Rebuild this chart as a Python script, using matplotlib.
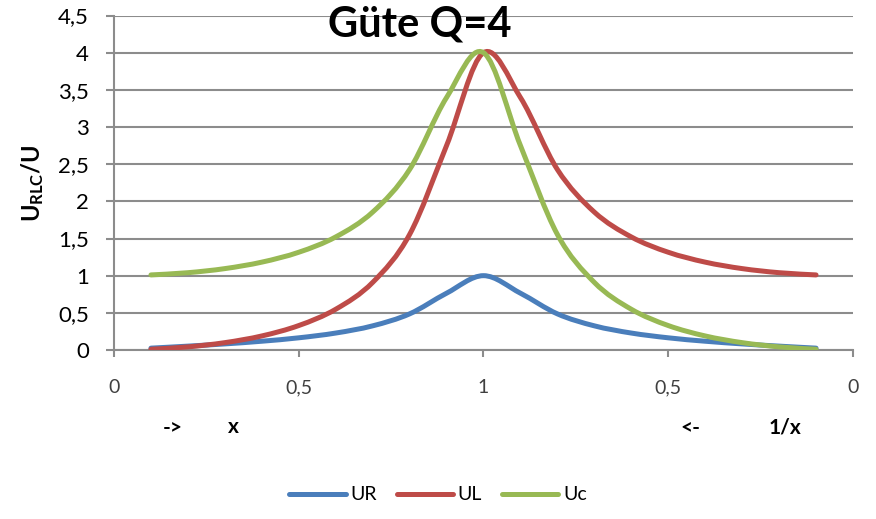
import numpy as np
import matplotlib
matplotlib.use("Agg")
import matplotlib.pyplot as plt
from matplotlib.path import Path
from matplotlib.patches import PathPatch
from matplotlib.lines import Line2D

plt.rcParams["font.family"] = ["Lato", "DejaVu Sans"]
plt.rcParams["mathtext.fontset"] = "custom"
plt.rcParams["mathtext.rm"] = "Lato"
plt.rcParams["mathtext.bf"] = "Lato:bold"

# position on the axis: 0..1 is x, 1..2 is 1/x running back from 1 to 0
pos = [0.1, 0.2, 0.3, 0.4, 0.5, 0.6, 0.7, 0.8, 0.9, 1.0,
       1.1, 1.2, 1.3, 1.4, 1.5, 1.6, 1.7, 1.8, 1.9]
ur = [0.025, 0.052, 0.082, 0.118, 0.164, 0.228, 0.325, 0.486, 0.764, 1.0,
      0.764, 0.486, 0.325, 0.228, 0.164, 0.118, 0.082, 0.052, 0.025]
ul = [0.010, 0.042, 0.099, 0.189, 0.329, 0.548, 0.909, 1.554, 2.750, 4.0,
      3.396, 2.428, 1.855, 1.521, 1.315, 1.182, 1.095, 1.040, 1.010]
uc = [1.010, 1.040, 1.095, 1.182, 1.315, 1.521, 1.855, 2.428, 3.396, 4.0,
      2.750, 1.554, 0.909, 0.548, 0.329, 0.189, 0.099, 0.042, 0.010]

series = ["UR", "UL", "Uc"]
colors = ["#4A7EBB", "#BE4B48", "#98B954"]

xtick_pos = [0, 0.5, 1, 1.5, 2]
xtick_labels = ["0", "0,5", "1", "0,5", "0"]
yticks = [0, 0.5, 1, 1.5, 2, 2.5, 3, 3.5, 4, 4.5]
ytick_labels = ["0", "0,5", "1", "1,5", "2", "2,5", "3", "3,5", "4", "4,5"]

GRID = "#8C8C8C"


def smooth_path(xs, ys):
    """Excel-style smoothed line: cubic Bezier segments (Catmull-Rom)."""
    p = np.column_stack([xs, ys]).astype(float)
    ext = np.vstack([p[0], p, p[-1]])
    verts = [p[0]]
    codes = [Path.MOVETO]
    for i in range(len(p) - 1):
        p0, p1, p2, p3 = ext[i], ext[i + 1], ext[i + 2], ext[i + 3]
        verts += [p1 + (p2 - p0) / 6.0, p2 - (p3 - p1) / 6.0, p2]
        codes += [Path.CURVE4] * 3
    return Path(verts, codes)


fig = plt.figure(figsize=(8.76, 5.19), dpi=100)
ax = fig.add_axes([114 / 876, 1 - 350 / 519, (853 - 114) / 876, (350 - 15.5) / 519])

for vals, col in zip([ur, ul, uc], colors):
    ax.add_patch(PathPatch(smooth_path(pos, vals), facecolor="none",
                           edgecolor=col, lw=3.6, capstyle="round",
                           joinstyle="round", zorder=3))

ax.set_xlim(0, 2)
ax.set_ylim(0, 4.5)
ax.set_xticks(xtick_pos)
ax.set_xticklabels(xtick_labels, fontsize=14, color="#404040")
ax.set_yticks(yticks)
ax.set_yticklabels(ytick_labels, fontsize=16)
ax.grid(axis="y", color=GRID, lw=1.5)
ax.set_axisbelow(True)
for s in ["top", "right"]:
    ax.spines[s].set_visible(False)
for s in ["left", "bottom"]:
    ax.spines[s].set_color(GRID)
    ax.spines[s].set_linewidth(1.5)
ax.tick_params(axis="y", length=6, width=1.5, color=GRID, pad=12)
ax.tick_params(axis="x", length=5, width=1.5, color=GRID, pad=16)

fig.text(33 / 876, 1 - 183 / 519, r"$\mathbf{U_{RLC}/U}$", rotation=90,
         ha="center", va="center", fontsize=17)
fig.text(420 / 876, 1 - 25 / 519, "Güte Q=4", ha="center", va="center",
         fontsize=30, fontweight="bold")

for txt, xp in [("->", 173), ("x", 233), ("<-", 690), ("1/x", 785)]:
    fig.text(xp / 876, 1 - 427 / 519, txt, ha="center", va="center",
             fontsize=15, fontweight="bold")

handles = [Line2D([], [], color=c, lw=3.6, solid_capstyle="round") for c in colors]
fig.legend(handles, series, loc="center", bbox_to_anchor=(438 / 876, 1 - 495 / 519),
           ncol=3, frameon=False, fontsize=14, handlelength=2.9,
           handletextpad=0.25, columnspacing=1.0)

fig.savefig("out.png", dpi=100)
